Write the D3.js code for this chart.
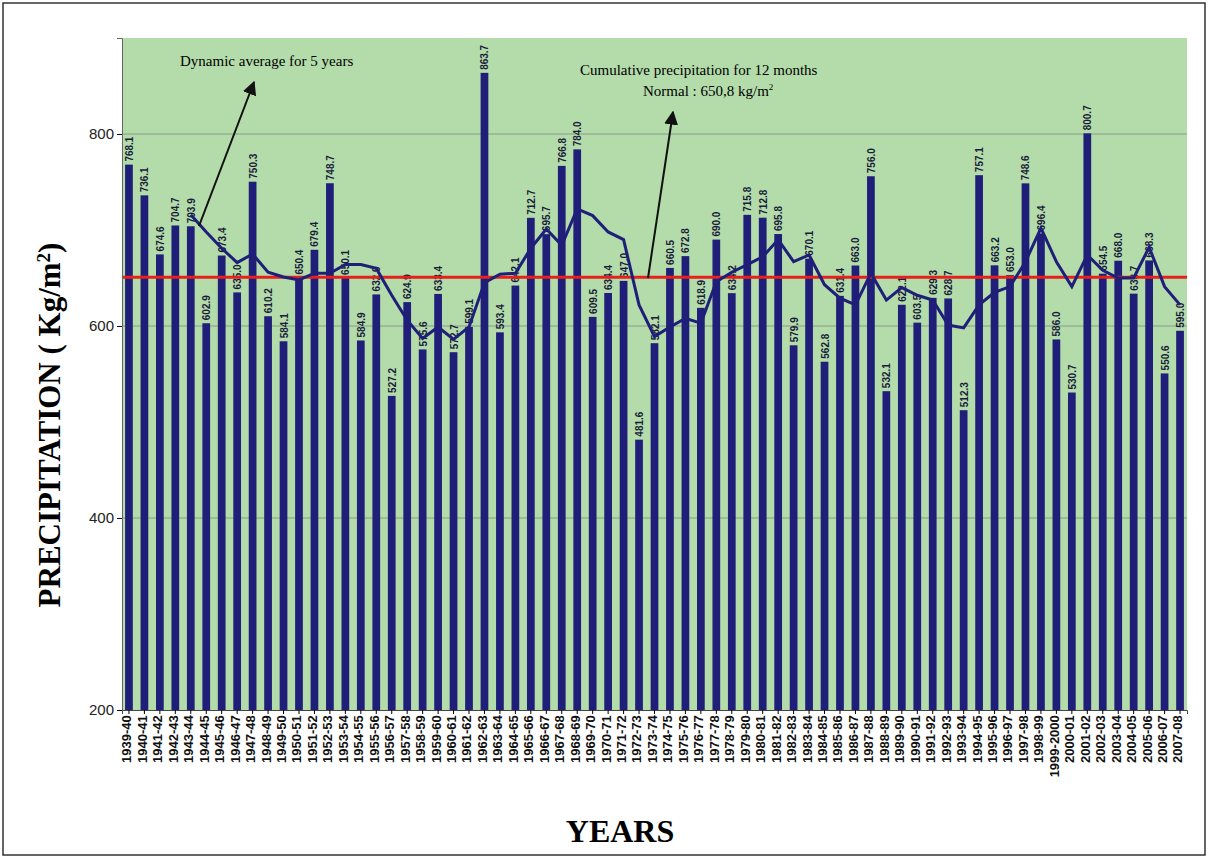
<!DOCTYPE html>
<html>
<head>
<meta charset="utf-8">
<script src="https://cdn.jsdelivr.net/npm/d3@7"></script>
<style>
body { margin: 0; background: #fff; }
</style>
</head>
<body>
<svg id="chart" width="1209" height="859"></svg>
<script>
// Data

const years = ["1939-40","1940-41","1941-42","1942-43","1943-44","1944-45","1945-46","1946-47","1947-48","1948-49",
  "1949-50","1950-51","1951-52","1952-53","1953-54","1954-55","1955-56","1956-57","1957-58","1958-59",
  "1959-60","1960-61","1961-62","1962-63","1963-64","1964-65","1965-66","1966-67","1967-68","1968-69",
  "1969-70","1970-71","1971-72","1972-73","1973-74","1974-75","1975-76","1976-77","1977-78","1978-79",
  "1979-80","1980-81","1981-82","1982-83","1983-84","1984-85","1985-86","1986-87","1987-88","1988-89",
  "1989-90","1990-91","1991-92","1992-93","1993-94","1994-95","1995-96","1996-97","1997-98","1998-99",
  "1999-2000","2000-01","2001-02","2002-03","2003-04","2004-05","2005-06","2006-07","2007-08"];

const precip = [768.1,736.1,674.6,704.7,703.9,602.9,673.4,635.0,750.3,610.2,
  584.1,650.4,679.4,748.7,650.1,584.9,632.9,527.2,624.9,575.6,
  633.4,572.7,599.1,863.7,593.4,642.1,712.7,695.7,766.8,784.0,
  609.5,634.4,647.0,481.6,582.1,660.5,672.8,618.9,690.0,634.2,
  715.8,712.8,695.8,579.9,670.1,562.8,631.4,663.0,756.0,532.1,
  622.1,603.5,629.3,628.7,512.3,757.1,663.2,653.0,748.6,696.4,
  586.0,530.7,800.7,654.5,668.0,633.7,668.3,550.6,595.0];

// 5-year dynamic average (starts at 1943-44)
const avgYears = years.slice(4);
const avg5 = [716,698,681,666,675,656,651,648,655,655,
  664,664,660,632,606,587,599,586,599,645,
  654,655,681,701,684,722,715,698,690,622,
  589,599,608,603,646,656,664,672,690,667,
  674,643,629,622,655,627,640,632,627,601,
  598,622,635,641,667,702,667,641,674,658,
  650,650,682,641,622];

const normal = 650.8;
const yTicks = [200, 400, 600, 800];

// Chart

const svg = d3.select("#chart");
const plotLeft = 122, plotRight = 1187, plotTop = 38, plotBottom = 710;

svg.append("rect").attr("x", 3).attr("y", 3).attr("width", 1202).attr("height", 852)
  .attr("fill", "#fff").attr("stroke", "#333").attr("stroke-width", 1.5);

const x = d3.scaleBand().domain(years).range([plotLeft, plotRight]).paddingInner(0.5).paddingOuter(0.2);
const y = d3.scaleLinear().domain([200, 900]).range([plotBottom, plotTop]);

svg.append("rect").attr("x", plotLeft).attr("y", plotTop).attr("width", plotRight - plotLeft).attr("height", plotBottom - plotTop)
  .attr("fill", "#b3dcaa");

svg.append("g").selectAll("line").data(yTicks.slice(1)).join("line")
  .attr("x1", plotLeft).attr("x2", plotRight).attr("y1", d => y(d)).attr("y2", d => y(d))
  .attr("stroke", "#8a9a88").attr("stroke-width", 1);

svg.append("g").selectAll("rect").data(precip).join("rect")
  .attr("x", (d, i) => x(years[i])).attr("width", x.bandwidth())
  .attr("y", d => y(d)).attr("height", d => plotBottom - y(d))
  .attr("fill", "#1f1f7a");

svg.append("g").selectAll("text").data(precip).join("text")
  .attr("transform", (d, i) => `translate(${x(years[i]) + x.bandwidth() / 2 + 4},${y(d) - 3}) rotate(-90)`)
  .attr("font-family", "Liberation Sans, Arial, sans-serif").attr("font-size", 10).attr("font-weight", "bold")
  .attr("fill", "#1a1a3a")
  .text(d => d.toFixed(1));

svg.append("line").attr("x1", plotLeft).attr("x2", plotRight).attr("y1", y(normal)).attr("y2", y(normal))
  .attr("stroke", "#e8201c").attr("stroke-width", 3);

const line = d3.line().x((d, i) => x(avgYears[i]) + x.bandwidth() / 2).y(d => y(d));
svg.append("path").datum(avg5).attr("d", line).attr("fill", "none")
  .attr("stroke", "#1f1f7a").attr("stroke-width", 3);

// Axes
const yAxis = svg.append("g").attr("transform", `translate(${plotLeft},0)`)
  .call(d3.axisLeft(y).tickValues(yTicks).tickSize(5).tickFormat(d3.format("d")));
yAxis.select(".domain").attr("stroke", "#666");
yAxis.selectAll("text").attr("font-family", "Liberation Sans, Arial, sans-serif").attr("font-size", 15).attr("fill", "#222");

const xAxis = svg.append("g").attr("transform", `translate(0,${plotBottom})`)
  .call(d3.axisBottom(x).tickSize(4));
xAxis.select(".domain").attr("stroke", "#444");
xAxis.selectAll("text")
  .attr("transform", "rotate(-90)").attr("text-anchor", "end")
  .attr("dx", "-0.4em").attr("dy", "-0.35em")
  .attr("font-family", "Liberation Sans, Arial, sans-serif").attr("font-size", 13).attr("font-weight", "bold").attr("fill", "#111");

// Titles
svg.append("text").attr("x", 620).attr("y", 842).attr("text-anchor", "middle")
  .attr("font-family", "Liberation Serif, Times New Roman, serif").attr("font-size", 32).attr("font-weight", "bold")
  .text("YEARS");

svg.append("text").attr("transform", "translate(60,425) rotate(-90)").attr("text-anchor", "middle")
  .attr("font-family", "Liberation Serif, Times New Roman, serif").attr("font-size", 31).attr("font-weight", "bold")
  .html('PRECIPITATION ( Kg/m<tspan dy="-10" font-size="19">2</tspan><tspan dy="10">)</tspan>');

// Annotations
const defs = svg.append("defs");
defs.append("marker").attr("id", "arrow").attr("viewBox", "0 0 10 10").attr("refX", 9).attr("refY", 5)
  .attr("markerWidth", 7).attr("markerHeight", 7).attr("orient", "auto")
  .append("path").attr("d", "M0,0 L10,5 L0,10 z").attr("fill", "#111");

const serif = "Liberation Serif, Times New Roman, serif";
svg.append("text").attr("x", 180).attr("y", 66).attr("font-family", serif).attr("font-size", 15).text("Dynamic average for 5 years");
svg.append("line").attr("x1", 199).attr("y1", 226).attr("x2", 254).attr("y2", 82)
  .attr("stroke", "#111").attr("stroke-width", 2).attr("marker-end", "url(#arrow)");

svg.append("text").attr("x", 580).attr("y", 75).attr("font-family", serif).attr("font-size", 15).text("Cumulative precipitation for 12 months");
svg.append("text").attr("x", 643).attr("y", 96).attr("font-family", serif).attr("font-size", 15)
  .html('Normal : 650,8 kg/m<tspan dy="-6" font-size="9">2</tspan>');
svg.append("line").attr("x1", 648).attr("y1", 278).attr("x2", 673).attr("y2", 112)
  .attr("stroke", "#111").attr("stroke-width", 2).attr("marker-end", "url(#arrow)");
</script>
</body>
</html>
